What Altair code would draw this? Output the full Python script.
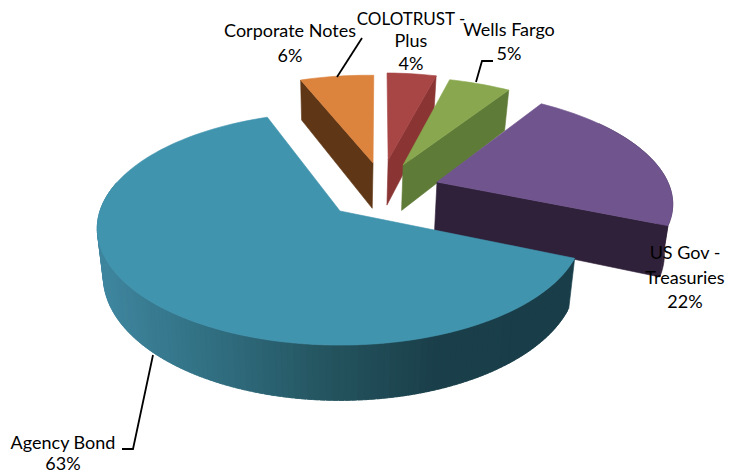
import math
import altair as alt
import pandas as pd

# ---- chart values ----
names = ["Agency Bond", "Corporate Notes", "COLOTRUST - Plus", "Wells Fargo", "US Gov - Treasuries"]
shares = [63, 6, 4, 5, 22]
top_colors = ["#4194AE", "#DC833E", "#A84545", "#88A74E", "#70548E"]
wall_colors = ["#1A3E49", "#5F3716", "#8A3433", "#5F7B38", "#30213A"]
rim_stops = [(97, "#3F87A0"), (230, "#2F6B7D"), (330, "#24545F"), (440, "#1A3F4A"), (575, "#1A3E49")]

# ---- 3D pie geometry parameters ----
FIRST_ANGLE = 113.0
CX, CY = 340.0, 211.0
RX, RY, K = 240.0, 114.0, 0.15
DEPTH, BOTTOM_SCALE = 47.0, 0.975
explode = [(0.0, 0.0), (0.147, 0.45), (0.215, 0.48), (0.28, 0.43), (0.42, 0.264)]
depth_factor = [1.0, 1.03, 1.03, 1.03, 1.07]


def top_pt(u, v):
    d = 1 + K * v
    return CX + RX * u / d, CY - RY * v / d


def bot_pt(u, v, f=1.0):
    d = 1 + K * v
    x, y = top_pt(u, v)
    return CX + (x - CX) * BOTTOM_SCALE, y + DEPTH * f / d


def disk(theta, off):
    t = math.radians(theta)
    return off[0] + math.sin(t), off[1] + math.cos(t)


def hex2rgb(h):
    return [int(h[i:i + 2], 16) for i in (1, 3, 5)]


def rim_color(x):
    for (x0, c0), (x1, c1) in zip(rim_stops, rim_stops[1:]):
        if x <= x1:
            f = max(0.0, (x - x0) / (x1 - x0))
            a, b = hex2rgb(c0), hex2rgb(c1)
            return "#%02x%02x%02x" % tuple(round(p + (q - p) * f) for p, q in zip(a, b))
    return rim_stops[-1][1]


rows = []
pid = 0


def add_poly(pts, color):
    global pid
    pid += 1
    for i, (x, y) in enumerate(pts + pts[:1]):
        rows.append({"poly": f"p{pid:04d}", "i": i, "x": x, "y": y, "c": color})


def arc(start, end, off, fn, step=2.0):
    n = max(2, int(abs(end - start) / step))
    return [fn(*disk(start + (end - start) * j / n, off)) for j in range(n + 1)]


# slice angle spans from the shares, clockwise from the first angle
spans = []
a = FIRST_ANGLE
for s in shares:
    spans.append((a, a + s * 3.6))
    a += s * 3.6

# paint from back to front: orange, red, green, purple, agency
for idx in [1, 2, 3, 4, 0]:
    start, end = spans[idx]
    off = explode[idx]
    f = depth_factor[idx]
    bot = lambda u, v, f=f: bot_pt(u, v, f)
    if idx == 0:
        # shaded outer rim, in overlapping strips so that no seams show
        n = 130
        lo, hi = start, 285.0
        step = (hi - lo) / n
        for j in reversed(range(n)):
            t0 = lo + step * j
            t1 = min(hi, t0 + step * 1.8)
            p0, p1 = disk(t0, off), disk(t1, off)
            quad = [top_pt(*p0), top_pt(*p1), bot(*p1), bot(*p0)]
            add_poly(quad, rim_color((quad[0][0] + quad[1][0]) / 2))
    if idx == 4:
        add_poly(arc(end - 60, end, off, top_pt) + arc(end - 60, end, off, bot)[::-1], wall_colors[idx])
    # the flat radial face that looks toward the viewer
    face_angle = {1: start, 2: end, 3: end, 4: end}.get(idx)
    if face_angle is not None:
        e = disk(face_angle, off)
        add_poly([top_pt(*off), top_pt(*e), bot(*e), bot(*off)], wall_colors[idx])
    add_poly([top_pt(*off)] + arc(start, end, off, top_pt), top_colors[idx])

poly_df = pd.DataFrame(rows)

labels = pd.DataFrame([
    {"t": "Corporate Notes", "x": 290, "y": 32, "s": 18},
    {"t": "6%", "x": 290, "y": 57, "s": 18},
    {"t": "COLOTRUST -", "x": 411, "y": 20, "s": 17},
    {"t": "Plus", "x": 411, "y": 42, "s": 18},
    {"t": "4%", "x": 411, "y": 65, "s": 18},
    {"t": "Wells Fargo", "x": 509, "y": 31, "s": 18},
    {"t": "5%", "x": 509, "y": 55, "s": 18},
    {"t": "US Gov -", "x": 685, "y": 254, "s": 18},
    {"t": "Treasuries", "x": 685, "y": 279, "s": 18},
    {"t": "22%", "x": 685, "y": 303, "s": 18},
    {"t": "Agency Bond", "x": 63, "y": 444, "s": 18},
    {"t": "63%", "x": 63, "y": 465, "s": 18},
])

leaders = pd.DataFrame([
    {"k": "a", "i": 0, "x": 362, "y": 38}, {"k": "a", "i": 1, "x": 337, "y": 77},
    {"k": "b", "i": 0, "x": 493, "y": 61}, {"k": "b", "i": 1, "x": 482, "y": 61}, {"k": "b", "i": 2, "x": 476, "y": 82},
    {"k": "c", "i": 0, "x": 122, "y": 449}, {"k": "c", "i": 1, "x": 133, "y": 449}, {"k": "c", "i": 2, "x": 153, "y": 355},
])

xs = alt.Scale(domain=[8, 734], nice=False, zero=False)
ys = alt.Scale(domain=[476, 8], nice=False, zero=False)
X = alt.X("x:Q", scale=xs, axis=None)
Y = alt.Y("y:Q", scale=ys, axis=None)

polys = alt.Chart(poly_df).mark_line(strokeWidth=0.6, interpolate="linear").encode(
    x=X, y=Y,
    detail="poly:N",
    order="i:Q",
    fill=alt.Fill("c:N", scale=None),
    stroke=alt.Stroke("c:N", scale=None),
)
lead = alt.Chart(leaders).mark_line(color="black", strokeWidth=1.8).encode(
    x=X, y=Y, detail="k:N", order="i:Q"
)
text = alt.Chart(labels).mark_text(font="Lato", color="black", baseline="middle", align="center").encode(
    x=X, y=Y, text="t:N", size=alt.Size("s:Q", scale=None, legend=None)
)

chart = (polys + lead + text).properties(
    width=726, height=468, padding=0, autosize=alt.AutoSizeParams(type="none"), background="white"
).configure_view(stroke=None)

chart.save("out.html", embed_options={"renderer": "svg", "actions": False})
